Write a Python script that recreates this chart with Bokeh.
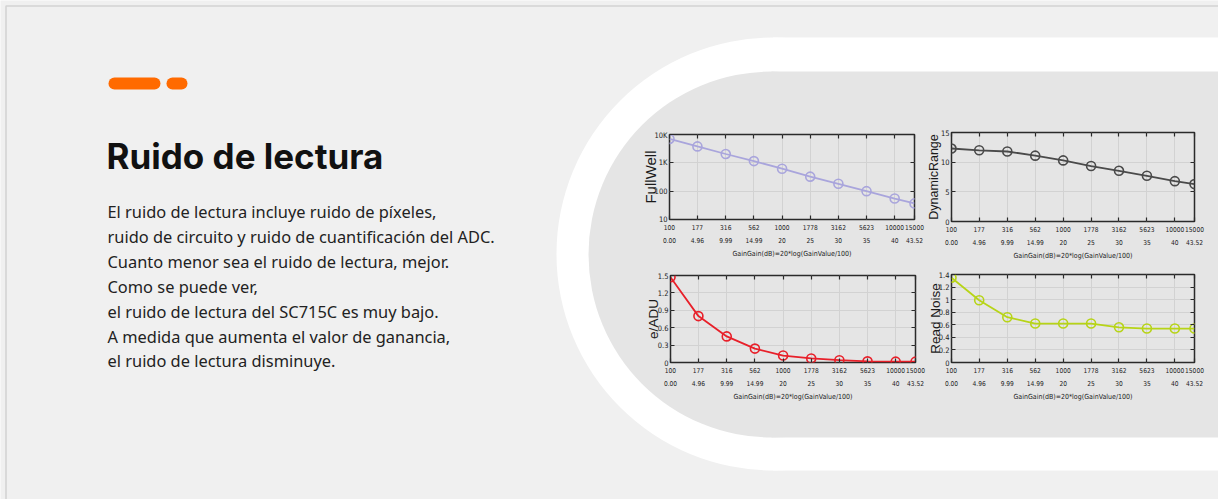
from bokeh.plotting import figure
from bokeh.layouts import column, row
from bokeh.models import FixedTicker, LinearAxis, LogAxis, Range1d, ColumnDataSource
from bokeh.core.properties import value
from bokeh.embed import file_html
from bokeh.resources import INLINE

# ---------------- data ----------------
gain_values = [100, 177, 316, 562, 1000, 1778, 3162, 5623, 10000, 15000]
gain_db = ["0.00", "4.96", "9.99", "14.99", "20", "25", "30", "35", "40", "43.52"]
full_well = [7000, 3800, 2050, 1150, 620, 325, 182, 100, 55, 37]
dynamic_range = [12.3, 12.0, 11.8, 11.1, 10.3, 9.35, 8.55, 7.7, 6.8, 6.3]
e_per_adu = [1.47, 0.80, 0.45, 0.24, 0.12, 0.07, 0.04, 0.02, 0.015, 0.015]
read_noise = [1.35, 0.99, 0.72, 0.62, 0.62, 0.62, 0.56, 0.54, 0.54, 0.54]

fw_ticks = [10, 100, 1000, 10000]
fw_tick_labels = ["10", "100", "1K", "10K"]
dr_ticks = [0, 5, 10, 15]
dr_tick_labels = ["0", "5", "10", "15"]
ea_ticks = [0, 0.3, 0.6, 0.9, 1.2, 1.5]
ea_tick_labels = ["0", "0.3", "0.6", "0.9", "1.2", "1.5"]
rn_ticks = [0, 0.2, 0.4, 0.6, 0.8, 1.0, 1.2, 1.4]
rn_tick_labels = ["0", "0.2", "0.4", "0.6", "0.8", "1", "1.2", "1.4"]

x_title = "GainGain(dB)=20*log(GainValue/100)"
title_text = "Ruido de lectura"
paragraph = [
    "El ruido de lectura incluye ruido de píxeles,",
    "ruido de circuito y ruido de cuantificación del ADC.",
    "Cuanto menor sea el ruido de lectura, mejor.",
    "Como se puede ver,",
    "el ruido de lectura del SC715C es muy bajo.",
    "A medida que aumenta el valor de ganancia,",
    "el ruido de lectura disminuye.",
]

W, H = 1218, 499
PAGE_BG = "#f0f0f0"
PANEL_BG = "#e5e5e5"
TICK_FONT = "DejaVu Sans Condensed"

# ---------------- background / text canvas ----------------
bg = figure(width=W, height=H, x_range=Range1d(0, W), y_range=Range1d(H, 0),
            x_axis_location=None, y_axis_location=None, min_border=0,
            output_backend="svg", toolbar_location=None,
            background_fill_color=PAGE_BG, border_fill_color=PAGE_BG, outline_line_color=None)
bg.grid.visible = False

# thin frame line of the original page
bg.line(x=[5.5, 5.5, 1230], y=[520, 5.5, 5.5], line_color="#d2d2d2", line_width=1.5)

# white stadium
bg.circle(x=[772.5], y=[253.5], radius=216.5, fill_color="white", line_color=None)
bg.quad(left=[772.5], right=[1230], top=[37], bottom=[470], fill_color="white", line_color=None)
# gray inner stadium
bg.circle(x=[771], y=[254], radius=183, fill_color=PANEL_BG, line_color=None)
bg.quad(left=[771], right=[1230], top=[71], bottom=[437], fill_color=PANEL_BG, line_color=None)

# orange pills
bg.quad(left=[108, 166], right=[160, 187], top=[77, 77], bottom=[89, 89],
        fill_color="#ff6a00", line_color=None, border_radius=6)

bg.text(x=[106], y=[155], text=[title_text], text_font=value("Inter"), text_font_size="35px",
        text_font_style="bold", text_color="#111111", text_baseline="alphabetic", text_align="left")

para_src = ColumnDataSource(dict(
    x=[107] * len(paragraph),
    y=[211.0 + 24.9 * i for i in range(len(paragraph))],
    t=paragraph,
))
bg.text(x="x", y="y", text="t", source=para_src, text_font=value("Noto Sans"),
        text_font_size="16.4px", text_color="#222222", text_baseline="alphabetic", text_align="left")

# ---------------- chart panels ----------------
ML, MR, MT, MB = 45, 16, 4, 60


def style_ticks(ax):
    ax.axis_line_color = None
    ax.major_tick_in = 4
    ax.major_tick_out = 0
    ax.major_tick_line_color = "#2a2a2a"
    ax.major_tick_line_width = 1.2
    ax.minor_tick_line_color = None


def panel(yvals, color, ylabel, ytype, yrange, yticks, ylabels, frame, ylabel_size, ylabel_standoff):
    left, top, fw, fh = frame
    p = figure(x_axis_type="log", y_axis_type=ytype,
               x_range=Range1d(gain_values[0], gain_values[-1]), y_range=Range1d(*yrange),
               frame_width=fw, frame_height=fh,
               min_border_left=ML, min_border_right=MR, min_border_top=MT, min_border_bottom=MB,
               output_backend="svg", toolbar_location=None,
               background_fill_alpha=0, border_fill_alpha=0,
               outline_line_color="#2a2a2a", outline_line_width=1.5)

    xa = p.xaxis[0]
    xa.ticker = FixedTicker(ticks=gain_values, minor_ticks=[])
    xa.major_label_overrides = {g: f"{g}\n{d}" for g, d in zip(gain_values, gain_db)}
    xa.axis_label = x_title
    xa.axis_label_text_font = TICK_FONT
    xa.axis_label_text_font_size = "7px"
    xa.axis_label_text_font_style = "normal"
    xa.axis_label_standoff = 2
    xa.major_label_text_font = TICK_FONT
    xa.major_label_text_font_size = "6.6px"
    xa.major_label_text_line_height = 1.7
    xa.major_label_standoff = 4
    xa.major_label_text_color = "#222222"
    xa.axis_label_text_color = "#222222"

    ya = p.yaxis[0]
    ya.ticker = FixedTicker(ticks=yticks, minor_ticks=[])
    ya.major_label_overrides = {t: l for t, l in zip(yticks, ylabels)}
    ya.axis_label = ylabel
    ya.axis_label_text_font = "Liberation Sans"
    ya.axis_label_text_font_size = ylabel_size
    ya.axis_label_text_font_style = "normal"
    ya.axis_label_text_color = "#1a1a1a"
    ya.axis_label_standoff = ylabel_standoff
    ya.major_label_text_font = TICK_FONT
    ya.major_label_text_font_size = "7.5px"
    ya.major_label_standoff = 2
    ya.major_label_text_color = "#222222"

    style_ticks(xa)
    style_ticks(ya)

    # top and right tick marks (box style), labels hidden
    top_ax = LogAxis(ticker=FixedTicker(ticks=gain_values, minor_ticks=[]))
    right_ax = (LogAxis if ytype == "log" else LinearAxis)(ticker=FixedTicker(ticks=yticks, minor_ticks=[]))
    for ax in (top_ax, right_ax):
        style_ticks(ax)
        ax.major_label_text_font_size = "1px"
        ax.major_label_text_color = None
        ax.major_label_standoff = 0
    p.add_layout(top_ax, "above")
    p.add_layout(right_ax, "right")

    p.grid.grid_line_color = "#d2d2d2"
    p.grid.grid_line_width = 1

    src = ColumnDataSource(dict(x=gain_values, y=yvals))
    p.line("x", "y", source=src, line_color=color, line_width=1.8)
    p.scatter("x", "y", source=src, marker="circle", size=9, fill_color=None,
              line_color=color, line_width=1.6)
    return p


frames = [
    (669, 134, 245, 85),
    (951, 132, 243, 89),
    (670, 275, 245, 87),
    (951, 274, 243, 88),
]

f1 = panel(full_well, "#a9a5dc", "FullWell", "log", (10, 10000), fw_ticks, fw_tick_labels,
           frames[0], "15px", -8)
f2 = panel(dynamic_range, "#4a4a4a", "DynamicRange", "linear", (0, 15), dr_ticks, dr_tick_labels,
           frames[1], "12.5px", -3)
f3 = panel(e_per_adu, "#e8202a", "e/ADU", "linear", (0, 1.5), ea_ticks, ea_tick_labels,
           frames[2], "13.5px", -6)
f4 = panel(read_noise, "#b7d417", "Read Noise", "linear", (0, 1.4), rn_ticks, rn_tick_labels,
           frames[3], "13.5px", -7)

# place the panels over the background: a row pulled up over it, each panel offset by margins
row_children = []
prev_right = 0
for fig, (left, top, fw, fh) in zip([f1, f2, f3, f4], frames):
    fig_left = left - ML
    fig_top = top - MT
    fig.margin = (fig_top, 0, 0, fig_left - prev_right)
    prev_right = fig_left + ML + fw + MR
    row_children.append(fig)

charts = row(children=row_children, spacing=0)
charts.margin = (-H, 0, 0, 0)

layout = column(children=[bg, charts], spacing=0)

open("out.html", "w").write(file_html(layout, INLINE))
